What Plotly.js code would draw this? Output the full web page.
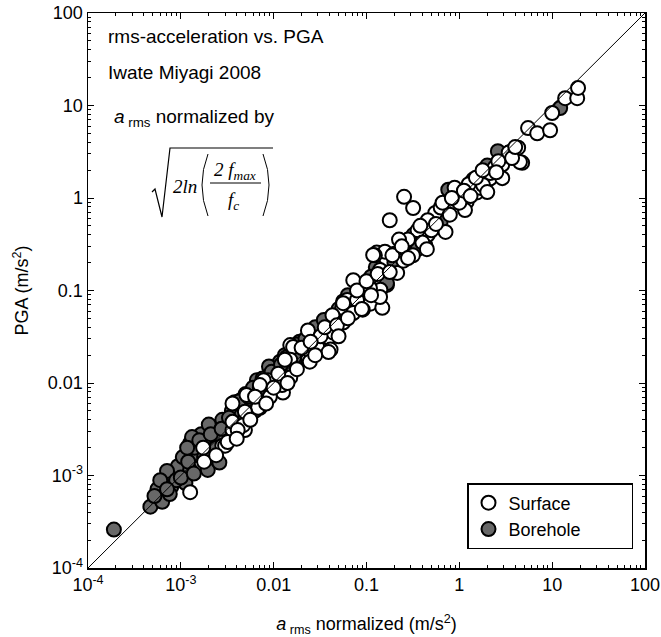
<!DOCTYPE html>
<html>
<head>
<meta charset="utf-8">
<script src="https://cdn.plot.ly/plotly-3.0.1.min.js"></script>
<style>html,body{margin:0;padding:0;background:#fff;}#chart{width:661px;height:637px;}</style>
</head>
<body>
<div id="chart"></div>
<script>
// Borehole records: a_rms normalized (m/s^2) vs PGA (m/s^2)
var boreholeX = [1.9e-4,4.7e-4,6.3e-4,6.5e-4,7.9e-4,8.3e-4,9.3e-4,1.12e-3,1.26e-3,1.26e-3,1.55e-3,1.95e-3,2.2e-3,2.3e-3,2.6e-3,3.8e-3,3.2e-3,1.32e-3,2.24e-3,3.8e-3,6.6e-3,0.01,0.0117,0.0158,0.0245,0.032,0.081,0.166,0.76,0.58,0.43,2.6,12.2,5.6e-4,7.1e-4,8.9e-4,1.05e-3,1.41e-3,1.66e-3,1.78e-3,2.8e-3,3.55e-3,4.5e-3,5.0e-3,5.6e-3,7.6e-3,8.9e-3,0.0112,0.0132,0.019,0.020,0.028,0.040,0.050,0.063,0.10,0.126,0.25,0.32,1.0,1.41,2.5e-3,4.0e-3,6.0e-3,7.6e-4,2.0e-3,6.3e-3,0.014,0.024,0.0447,4.5e-3,1.32e-3,0.0138,0.044,0.166,
  5.2e-4,6.0e-4,7.1e-4,1.0e-3,1.2e-3,1.17e-3,1.38e-3,1.58e-3,1.9e-3,2.1e-3,2.4e-3,2.75e-3,3.3e-3,4.2e-3,4.8e-3,5.4e-3,7.1e-3,7.9e-3,9.5e-3,0.012,0.0166,0.0178,0.022,0.026,0.0347,0.056,0.071,0.112,0.20,0.355,0.63,2.0,3.55];
var boreholeY = [2.6e-4,4.6e-4,5.2e-4,8.3e-4,7.6e-4,1.0e-3,1.26e-3,8.3e-4,2.24e-3,1.15e-3,1.66e-3,1.15e-3,2.3e-3,3.3e-3,1.38e-3,2.6e-3,2.9e-3,2.4e-3,3.3e-3,6.2e-3,0.0107,0.0107,0.017,0.0245,0.035,0.041,0.065,0.115,1.23,0.49,0.31,3.2,9.4,7.1e-4,1.12e-3,8.9e-4,1.58e-3,2.0e-3,2.8e-3,1.58e-3,4.0e-3,5.0e-3,4.5e-3,7.6e-3,5.6e-3,0.0112,0.0151,0.0112,0.020,0.028,0.019,0.040,0.050,0.063,0.089,0.105,0.178,0.28,0.40,1.12,1.58,2.4e-3,3.55e-3,8.9e-3,6.3e-4,3.55e-3,5.0e-3,0.014,0.0224,0.0355,6.6e-3,2.6e-3,0.019,0.042,0.12,
  6.0e-4,8.9e-4,7.1e-4,9.5e-4,1.41e-3,2.0e-3,1.05e-3,2.4e-3,1.9e-3,2.8e-3,2.0e-3,3.2e-3,4.2e-3,6.3e-3,4.0e-3,7.1e-3,8.9e-3,7.1e-3,0.0132,0.0158,0.019,0.026,0.030,0.028,0.048,0.076,0.071,0.141,0.20,0.28,0.56,2.24,3.16];
// Surface records
var surfaceX = [1.26e-3,2.8e-3,3.6e-3,3.0e-3,4.9e-3,7.1e-3,8.7e-3,0.0126,0.0151,0.0234,0.0151,0.039,0.041,0.0245,0.055,0.11,0.148,0.072,0.129,0.158,0.214,0.141,0.062,0.178,0.254,0.318,0.89,1.55,1.9,1.2,1.15,0.55,0.457,0.71,0.457,0.355,0.123,0.316,2.14,1.66,3.4,4.3,4.75,2.9,2.9,2.15,1.8,2.0,4.5,3.7,5.5,6.9,9.5,10,13.8,18.6,19,3.6e-3,4.7e-3,0.118,0.14,0.109,0.14,0.079,0.056,0.091,0.072,0.043,0.056,0.044,0.0234,0.0295,0.039,0.0162,0.0245,0.0151,7.8e-3,0.0123,7.1e-3,5.1e-3,9.1e-3,3.6e-3,6.8e-3,4.9e-3,4.1e-3,3.2e-3,1.74e-3,0.2,0.25,0.28,0.40,0.50,0.63,0.79,1.0,1.26,2.4,0.224,
  1.78e-3,2.4e-3,4.0e-3,5.6e-3,6.3e-3,8.3e-3,0.01,0.0112,0.0141,0.0178,0.020,0.028,0.032,0.0355,0.048,0.050,0.063,0.079,0.089,0.10,0.112,0.132,0.178,0.19,0.24,0.28,0.38,0.447,0.56,0.66,0.83,1.12,1.32,1.51,1.78,2.63,2.5,4.0,0.025,0.0132];
var surfaceY = [6.6e-4,2.1e-3,3.1e-3,2.1e-3,3.1e-3,5.4e-3,0.0107,7.9e-3,0.0115,0.0178,0.0257,0.031,0.023,0.022,0.065,0.072,0.065,0.129,0.257,0.263,0.155,0.102,0.079,0.575,1.03,0.78,1.29,1.15,1.45,0.91,0.74,0.69,0.575,0.43,0.40,0.447,0.24,0.24,1.62,1.29,3.1,3.5,2.4,2.3,1.64,1.86,1.38,1.16,2.45,2.7,5.7,5.0,5.4,8.3,12.0,12.0,15.5,3.8e-3,3.5e-3,0.242,0.167,0.106,0.085,0.079,0.073,0.062,0.057,0.054,0.045,0.035,0.037,0.0245,0.0216,0.0245,0.017,0.0178,0.0107,9.5e-3,9.5e-3,7.4e-3,7.1e-3,6.0e-3,5.4e-3,4.9e-3,3.1e-3,2.3e-3,2.0e-3,0.25,0.21,0.355,0.33,0.447,0.79,0.66,0.89,1.41,2.14,0.355,
  1.41e-3,1.66e-3,2.5e-3,4.0e-3,7.1e-3,6.0e-3,8.9e-3,0.0126,0.01,0.0141,0.024,0.020,0.032,0.040,0.042,0.032,0.050,0.10,0.063,0.126,0.089,0.151,0.158,0.24,0.30,0.224,0.50,0.28,0.525,0.89,1.0,1.2,1.05,1.66,2.0,2.5,1.9,3.55,0.028,0.0178];
// 1:1 reference line
var lineX = [1e-4, 100];
var lineY = [1e-4, 100];
var majorTicks = [1e-4,1e-3,0.01,0.1,1,10,100];
var majorLabels = ['10<sup>-4</sup>','10<sup>-3</sup>','0.01','0.1','1','10','100'];

var minorTicks = [];
for (var e = -4; e < 2; e++) { for (var m = 2; m <= 9; m++) { minorTicks.push(m * Math.pow(10, e)); } }

var font = 'Liberation Sans, Arial, Helvetica, sans-serif';
var serif = 'Liberation Serif, Times New Roman, serif';
var pad = '\u00a0\u00a0\u00a0\u00a0\u00a0\u00a0\u00a0\u00a0\u00a0\u00a0\u00a0';

function axis(extra) {
  var a = {
    type: 'log', range: [-4, 2], autorange: false,
    showgrid: false, zeroline: false,
    showline: true, linecolor: '#000', linewidth: 1.5, mirror: 'allticks',
    ticks: 'inside', ticklen: 6, tickwidth: 1, tickcolor: '#000',
    tickmode: 'array', tickvals: majorTicks, ticktext: majorLabels,
    tickfont: {family: font, size: 18, color: '#000'},
    minor: {tickmode: 'array', tickvals: minorTicks, ticks: 'inside', ticklen: 3, tickwidth: 1, tickcolor: '#000', showgrid: false},
    automargin: false
  };
  for (var k in extra) a[k] = extra[k];
  return a;
}

function px(x) { return (x - 88) / 557; }
function py(y) { return (568 - y) / 555; }

var traces = [
  {x: boreholeX, y: boreholeY, mode: 'markers', type: 'scatter', name: 'Borehole', showlegend: false,
   marker: {symbol: 'circle', size: 14, color: '#686868', line: {color: '#000', width: 2}}},
  {x: surfaceX, y: surfaceY, mode: 'markers', type: 'scatter', name: 'Surface' + pad,
   marker: {symbol: 'circle', size: 14, color: '#fff', line: {color: '#000', width: 2}}},
  {x: [null], y: [null], mode: 'markers', type: 'scatter', name: 'Borehole',
   marker: {symbol: 'circle', size: 14, color: '#686868', line: {color: '#000', width: 2}}},
  {x: lineX, y: lineY, mode: 'lines', type: 'scatter', showlegend: false, hoverinfo: 'skip',
   line: {color: '#000', width: 1}}
];

var layout = {
  width: 661, height: 637,
  margin: {l: 88, r: 16, t: 13, b: 69},
  paper_bgcolor: '#fff', plot_bgcolor: '#fff',
  font: {family: font, size: 18, color: '#000'},
  xaxis: axis({title: {text: '<i>a</i><sub> rms</sub> normalized (m/s<sup>2</sup>)', font: {family: font, size: 18}, standoff: 24}}),
  yaxis: axis({title: {text: 'PGA (m/s<sup>2</sup>)', font: {family: font, size: 18}, standoff: 14}}),
  showlegend: true,
  legend: {x: px(633), y: py(549), xanchor: 'right', yanchor: 'bottom',
    bordercolor: '#000', borderwidth: 1.5, bgcolor: '#fff',
    font: {family: font, size: 18, color: '#000'}, itemwidth: 30, traceorder: 'normal'},
  annotations: [
    {xref: 'paper', yref: 'paper', x: px(106), y: py(36), xanchor: 'left', yanchor: 'middle', showarrow: false,
     text: 'rms-acceleration vs. PGA', font: {family: font, size: 19}},
    {xref: 'paper', yref: 'paper', x: px(106), y: py(72), xanchor: 'left', yanchor: 'middle', showarrow: false,
     text: 'Iwate Miyagi 2008', font: {family: font, size: 19}},
    {xref: 'paper', yref: 'paper', x: px(112), y: py(118), xanchor: 'left', yanchor: 'middle', showarrow: false,
     text: '<i>a</i><sub> rms</sub> normalized by', font: {family: font, size: 19}},
    {xref: 'paper', yref: 'paper', x: px(171), y: py(186), xanchor: 'left', yanchor: 'middle', showarrow: false,
     text: '<i>2ln</i>', font: {family: serif, size: 19}},
    {xref: 'paper', yref: 'paper', x: px(235), y: py(171), xanchor: 'center', yanchor: 'middle', showarrow: false,
     text: '<i>2 f<sub>max</sub></i>', font: {family: serif, size: 19}},
    {xref: 'paper', yref: 'paper', x: px(233), y: py(201), xanchor: 'center', yanchor: 'middle', showarrow: false,
     text: '<i>f<sub>c</sub></i>', font: {family: serif, size: 19}}
  ],
  shapes: [
    {type: 'path', xref: 'paper', yref: 'paper', line: {color: '#000', width: 1.2},
     path: 'M ' + px(152) + ',' + py(192) + ' L ' + px(155) + ',' + py(189) + ' L ' + px(162) + ',' + py(217) + ' L ' + px(170) + ',' + py(148) + ' L ' + px(273) + ',' + py(148)},
    {type: 'path', xref: 'paper', yref: 'paper', line: {color: '#000', width: 1},
     path: 'M ' + px(208) + ',' + py(154) + ' Q ' + px(196) + ',' + py(185) + ' ' + px(208) + ',' + py(216)},
    {type: 'path', xref: 'paper', yref: 'paper', line: {color: '#000', width: 1},
     path: 'M ' + px(263) + ',' + py(154) + ' Q ' + px(275) + ',' + py(185) + ' ' + px(263) + ',' + py(216)},
    {type: 'line', xref: 'paper', yref: 'paper', x0: px(210), x1: px(261), y0: py(183), y1: py(183), line: {color: '#000', width: 1}}
  ]
};

Plotly.newPlot('chart', traces, layout, {displayModeBar: false, staticPlot: true});
</script>
</body>
</html>
